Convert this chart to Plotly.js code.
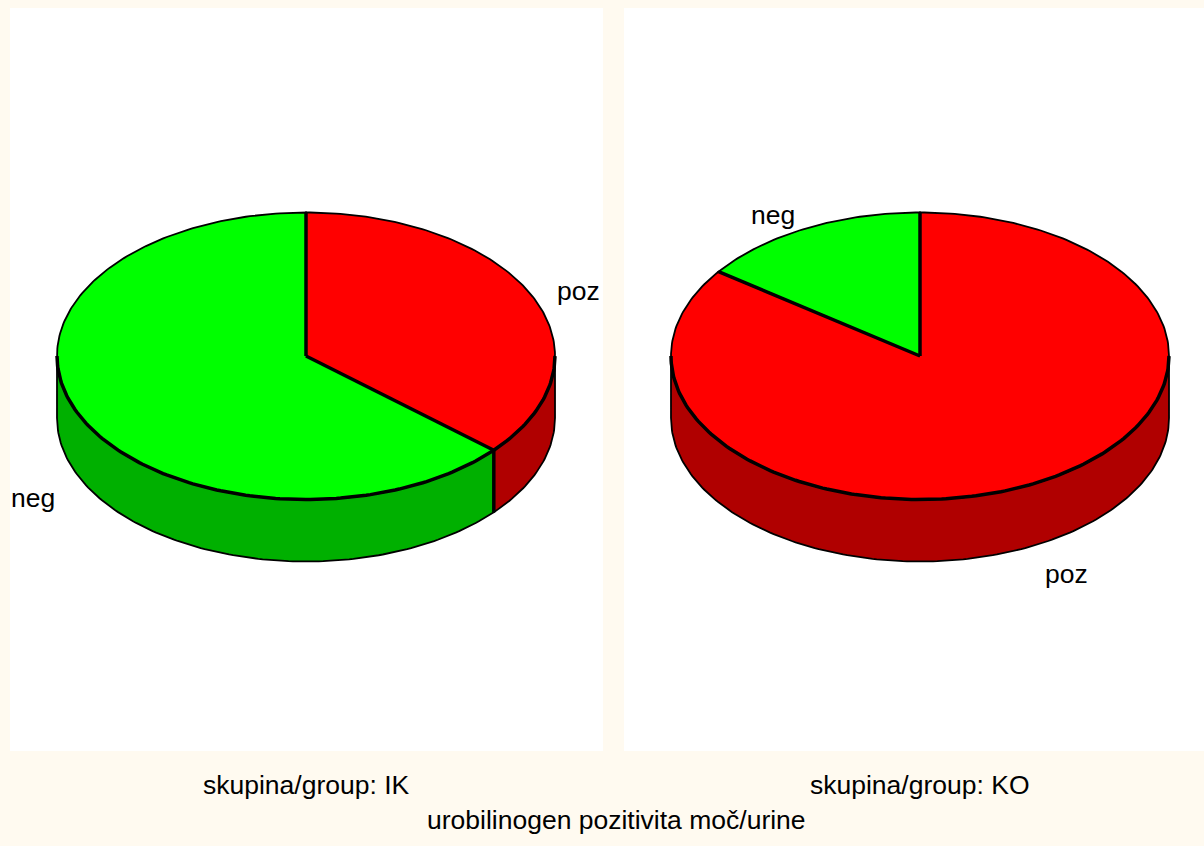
<!DOCTYPE html>
<html>
<head>
<meta charset="utf-8">
<script src="https://cdn.plot.ly/plotly-3.0.1.min.js"></script>
<style>html,body{margin:0;padding:0;background:#FFFAF0;overflow:hidden}#chart{width:1204px;height:846px}</style>
</head>
<body>
<div id="chart"></div>
<script>
var categories = ['poz', 'neg'];
var valuesIK = [36.4, 63.6];
var valuesKO = [85, 15];
var topColors = ['#FF0000', '#00FF00'];
var sideColors = ['#B00000', '#00B000'];
var groupLabels = ['skupina/group: IK', 'skupina/group: KO'];
var chartTitle = 'urobilinogen pozitivita moč/urine';

var W = 1204, H = 846, RX = 249, RY = 143.5, DEPTH = 62, CY = 356;
var TILT = RY / RX, DROP = DEPTH / RX;

function rad(d) { return d * Math.PI / 180; }
function arc(a, b, dy) {
  var xs = [], ys = [], n = Math.max(2, Math.ceil(Math.abs(b - a))), i, t;
  for (i = 0; i <= n; i++) {
    t = rad(a + (b - a) * i / n);
    xs.push(Math.sin(t));
    ys.push(Math.cos(t) * TILT - dy);
  }
  return { x: xs, y: ys };
}
function pieTraces(values, sub) {
  var xa = 'x' + (sub === 1 ? '' : sub), ya = 'y' + (sub === 1 ? '' : sub);
  var total = values.reduce(function (p, c) { return p + c; }, 0);
  var out = [], rims = [], start = 0;
  function add(x, y, fill, w, name) {
    var tr = { type: 'scatter', mode: 'lines', x: x, y: y, xaxis: xa, yaxis: ya,
      line: { color: '#000', width: w }, hoverinfo: 'skip', showlegend: false, name: name };
    if (fill) { tr.fill = 'toself'; tr.fillcolor = fill; }
    return tr;
  }
  var tops = [], radii = [], seams = [];
  values.forEach(function (v, k) {
    var end = start + v / total * 360;
    // side wall: only the part of the slice facing the viewer
    var a = Math.max(start, 90), b = Math.min(end, 270);
    if (b > a) {
      var up = arc(a, b, 0), lo = arc(b, a, DROP);
      out.push(add(up.x.concat(lo.x, [up.x[0]]), up.y.concat(lo.y, [up.y[0]]), sideColors[k], 1.8, categories[k]));
      rims.push(add(up.x, up.y, null, 3.5, categories[k]));
      if (a > 90) seams.push(add([up.x[0], up.x[0]], [up.y[0], up.y[0] - DROP], null, 3.5, categories[k]));
    }
    var t = arc(start, end, 0);
    tops.push(add([0].concat(t.x, [0]), [0].concat(t.y, [0]), topColors[k], 1.8, categories[k]));
    radii.push(add([0, t.x[0]], [0, t.y[0]], null, 3.5, categories[k]));
    start = end;
  });
  return out.concat(seams, tops, rims, radii);
}
var traces = pieTraces(valuesIK, 1).concat(pieTraces(valuesKO, 2));

function px(v) { return v / W; }
function py(v) { return 1 - v / H; }
function note(text, x, y) {
  return { text: text, xref: 'paper', yref: 'paper', x: px(x), y: py(y), xanchor: 'center', yanchor: 'middle',
    showarrow: false, font: { family: 'Liberation Sans, Arial, sans-serif', size: 26.5, color: '#000' } };
}
var annotations = [
  note(categories[0], 578, 291), note(categories[1], 33, 498),
  note(categories[1], 773, 215), note(categories[0], 1066, 574),
  note(groupLabels[0], 306.5, 785), note(groupLabels[1], 919.5, 785),
  note(chartTitle, 616, 820)
];

function axis(from, to, dom) {
  return { range: [from, to], domain: dom, visible: false, fixedrange: true, showgrid: false, zeroline: false };
}
var domY = [py(751), py(8)];
var layout = {
  width: W, height: H, margin: { l: 0, r: 0, t: 0, b: 0 },
  paper_bgcolor: '#FFFAF0', plot_bgcolor: '#FFFFFF', showlegend: false, hovermode: false,
  xaxis: axis((10 - 306) / RX, (603 - 306) / RX, [px(10), px(603)]),
  yaxis: axis((CY - 751) / RX, (CY - 8) / RX, domY),
  xaxis2: axis((624 - 920) / RX, (1204 - 920) / RX, [px(624), 1]),
  yaxis2: axis((CY - 751) / RX, (CY - 8) / RX, domY),
  annotations: annotations
};
layout.yaxis2.anchor = 'x2'; layout.xaxis2.anchor = 'y2';
Plotly.newPlot('chart', traces, layout, { displayModeBar: false, staticPlot: true });
</script>
</body>
</html>
